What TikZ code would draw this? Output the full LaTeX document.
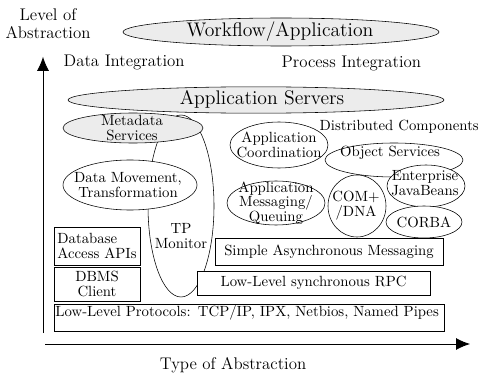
\documentclass[tikz,border=0pt]{standalone}
\usetikzlibrary{shapes.geometric,arrows.meta}
\tikzset{
  txt/.style={align=center,inner sep=1pt,font=\fontsize{10.5}{10.5}\selectfont},
  bigtxt/.style={inner sep=1pt,font=\fontsize{14}{16}\selectfont},
  axistxt/.style={align=center,inner sep=1pt,font=\fontsize{12}{12.5}\selectfont},
  blob/.style={draw,fill=white},
  shadeblob/.style={draw,fill=gray!15},
  layer/.style={rectangle,draw,fill=white,inner sep=1pt,font=\fontsize{10.5}{10.5}\selectfont},
  axisarrow/.style={-{Latex[length=0.35cm,width=0.3cm]},semithick}
}
\begin{document}
\begin{tikzpicture}
  \useasboundingbox (0,0) rectangle (12.025,9.4);

  % axes
  \node[axistxt] (ylabel) at (1.2,8.81) {Level of\\Abstraction};
  \coordinate (ybot) at (1.075,1.075);
  \coordinate (ytop) at (1.075,7.98);
  \draw[axisarrow] (ybot) -- (ytop);
  \coordinate (xleft) at (1.125,0.8);
  \coordinate (xright) at (11.75,0.8);
  \draw[axisarrow] (xleft) -- (xright);
  \node[axistxt] (xlabel) at (5.825,0.275) {Type of Abstraction};

  % top layers
  \filldraw[shadeblob] (7.025,8.6) ellipse (3.95 and 0.35);
  \node[bigtxt] (workflow) at (7.0,8.6) {Workflow/Application};
  \node[axistxt,anchor=west] (dataint) at (1.55,7.85) {Data Integration};
  \node[axistxt,anchor=west] (procint) at (7.0,7.825) {Process Integration};
  \filldraw[shadeblob] (6.4,6.9) ellipse (4.7 and 0.33);
  \node[bigtxt] (appservers) at (6.55,6.925) {Application Servers};

  % data side
  \draw (4.525,4.25) ellipse (0.825 and 2.275);
  \node[txt] (tp) at (4.525,3.5) {TP\\Monitor};
  \filldraw[shadeblob] (3.325,6.2) ellipse (1.75 and 0.375);
  \node[txt] (metadata) at (3.3,6.2) {Metadata\\Services};
  \filldraw[blob] (3.25,4.775) ellipse (1.675 and 0.625);
  \node[txt] (datamove) at (3.2,4.775) {Data Movement,\\Transformation};

  \node[layer,minimum width=2.15cm,minimum height=0.95cm,align=left] (dbapi)
       at (2.425,3.25) {Database\\Access APIs};
  \node[layer,minimum width=2.15cm,minimum height=0.85cm,align=center] (dbms)
       at (2.425,2.3) {DBMS\\Client};

  % process side
  \filldraw[blob] (6.975,5.775) ellipse (1.225 and 0.575);
  \node[txt] (appcoord) at (6.975,5.775) {Application\\Coordination};
  \filldraw[blob] (6.9,4.325) ellipse (1.225 and 0.55);
  \node[txt] (appmsg) at (6.9,4.325) {Application\\Messaging/\\Queuing};

  \node[txt,anchor=west] (distcomp) at (7.95,6.225) {Distributed Components};
  \filldraw[blob] (9.85,5.4) ellipse (1.725 and 0.425);
  \node[txt] (objserv) at (9.75,5.575) {Object Services};
  \filldraw[blob] (10.65,4.75) ellipse (0.975 and 0.525);
  \node[txt] (ejb) at (10.625,4.825) {Enterprise\\JavaBeans};
  \filldraw[blob] (8.925,4.25) ellipse (0.725 and 0.775);
  \node[txt] (comdna) at (8.9,4.25) {COM+\\/DNA};
  \filldraw[blob] (10.6,3.85) ellipse (0.95 and 0.4);
  \node[txt] (corba) at (10.6,3.85) {CORBA};

  % messaging layers
  \node[layer,minimum width=5.7cm,minimum height=0.675cm] (async)
       at (8.225,3.1125) {Simple Asynchronous Messaging};
  \node[layer,minimum width=5.825cm,minimum height=0.6cm] (rpc)
       at (7.8375,2.325) {Low-Level synchronous RPC};
  \node[layer,text width=9.68cm,align=left,text height=0.28cm,text depth=0.325cm]
       (protocols) at (6.225,1.4625)
       {Low-Level Protocols: TCP/IP, IPX, Netbios, Named Pipes};

\end{tikzpicture}
\end{document}
